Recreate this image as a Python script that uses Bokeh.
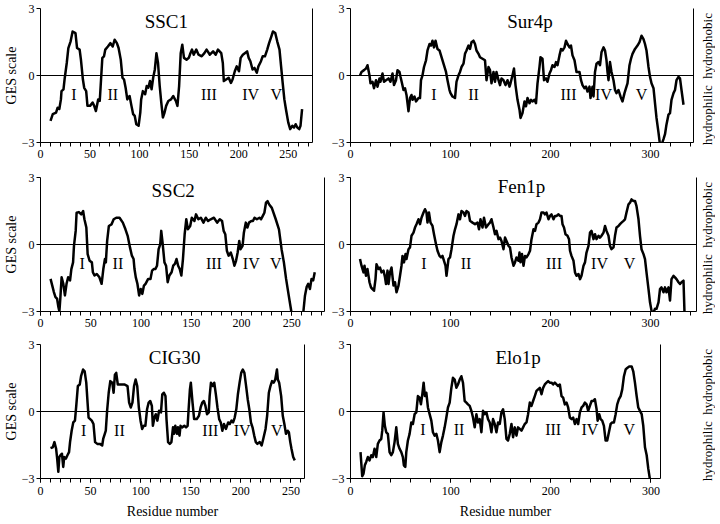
import math
from bokeh.plotting import figure
from bokeh.layouts import column, row
from bokeh.models import Span, Label, SingleIntervalTicker, FixedTicker, LinearAxis, Range1d
from bokeh.core.properties import value
from bokeh.embed import file_html
from bokeh.resources import INLINE

FONT = "Liberation Serif"
numerals = ["I", "II", "III", "IV", "V"]
side_text = ["hydrophobic", "hydrophilic"]
side_y = [1.55, -1.55]

# ---------------- SSC1 ----------------
ssc1_x = [10.1, 12.4, 15.7, 17.3, 19, 20.6, 21.2, 23.2, 24.5, 26.5,
          28.1, 30.4, 32.4, 35.3, 36.9, 39.5, 40.8, 42.8, 44.1, 46.1,
          47.4, 50, 52.6, 54.2, 55.9, 58.2, 59.8, 61.1, 62.4, 64.1,
          65.4, 68, 70.6, 72.9, 74.8, 77.1, 78.8, 81, 82.7, 84.3,
          85.9, 87.6, 89.9, 91.8, 93.5, 95.1, 96.7, 99, 100.7, 101.6,
          103.3, 105.6, 107.2, 108.8, 110.5, 112.1, 113.7, 115.4, 117, 118.6,
          120.3, 121.9, 123.5, 125.2, 126.8, 129, 131.7, 134, 136.6, 138.2,
          139.9, 141.5, 143.1, 144.8, 147.4, 149.7, 151.3, 152.9, 154.6, 157.2,
          159.5, 162.7, 165.4, 167.6, 170.9, 174.2, 176.8, 179.1, 182.4, 184,
          185, 187.3, 189.9, 192.2, 193.8, 196.1, 198, 200.3, 202, 204.2,
          206.2, 208.5, 210.1, 211.8, 214, 216, 218.3, 219.9, 222.5, 224.2,
          226.5, 228.8, 230.7, 233, 234.6, 236.9, 238.9, 241.2, 242.8, 244.4,
          246.1, 247.7, 250, 252, 254.2, 255.9, 257.5, 259.2, 261.1, 262.4,
          264]
ssc1_y = [-2.03, -1.73, -1.66, -1.44, -1.5, -1.07, -0.7, -0.62, -0.1, 0.56,
          1.23, 1.53, 1.97, 1.9, 1.23, 1.16, 0.71, -0.18, -0.55, -0.7,
          -1.36, -1.36, -1.21, -1.36, -1.59, -1.07, -1.14, -0.18, 0.79, 0.86,
          1.16, 1.3, 1.45, 1.3, 1.6, 1.45, 1.23, 0.71, -0.1, -0.18,
          -0.55, -1.07, -0.92, -1.36, -1.73, -1.81, -2.18, -2.25, -1.66, -1.07,
          -0.7, -0.84, -0.47, -0.55, -0.25, -0.62, -0.1, 0.27, 1.0, 0.56,
          -0.47, -1.21, -1.88, -1.66, -1.36, -1.14, -1.07, -0.92, -1.14, -1.36,
          -0.47, 1.0, 1.38, 0.79, 0.71, 0.79, 1.0, 1.16, 0.93, 1.16,
          0.93, 0.86, 1.0, 1.16, 0.93, 1.08, 0.93, 1.16, 1.0, 0.56,
          -0.25, -0.18, -0.1, -0.33, -0.18, 0.19, 0.41, 0.19, 0.79, 0.93,
          1.0, 1.08, 0.79, 0.64, 0.27, 0.34, 0.12, 0.41, 0.64, 0.86,
          0.86, 1.16, 1.45, 1.75, 1.97, 1.9, 1.53, 1.16, 0.41, -0.33,
          -1.07, -1.51, -2.1, -2.4, -2.25, -2.33, -2.18, -2.33, -2.4, -2.25,
          -1.51]
ssc1_num_x = [33.7, 73, 170, 212, 238]
ssc1_num_y = [-0.87, -0.87, -0.87, -0.87, -0.87]

# ---------------- Sur4p ----------------
sur4p_x = [9.5, 11, 13.5, 15.5, 17, 19, 20, 22, 23.5, 25.5,
           27, 29, 30, 32, 33.5, 35.5, 38, 40, 42, 43.5,
           45.5, 47, 49, 50, 51.5, 53, 54.5, 56, 58, 59.5,
           61, 62, 64, 65.5, 68, 69.5, 70.5, 72, 73.5, 75.5,
           77, 79, 80.5, 82, 83.5, 85, 87, 89, 90.5, 93,
           95.5, 97, 99, 100, 102, 104.5, 106, 108, 109.5, 111,
           113, 114.5, 116, 118, 119.5, 121, 123, 124.5, 126, 128,
           129.5, 132, 134.5, 136, 138, 139.5, 141, 143, 144.5, 146,
           148, 149.5, 151, 153, 155, 157, 159, 160, 162, 163.5,
           165, 167, 169, 170, 172, 174, 175.5, 177, 179, 180.5,
           182, 184, 185.5, 187, 189, 190, 192, 193.5, 195.5, 197,
           199, 200.5, 202, 204, 205.5, 207, 209, 210.5, 212, 214,
           215.5, 217, 219, 220.5, 222, 224, 226, 229, 230.5, 232,
           234, 235.5, 237, 239, 240, 242, 243, 244.5, 246, 248,
           249.5, 251, 253, 254.5, 256, 257, 258, 259.5, 261, 263,
           264.5, 266, 268, 270, 272, 274, 275.5, 277, 279, 280.5,
           282, 284.5, 287, 289, 291, 293, 294.5, 296, 298, 299.5,
           301, 303, 304.5, 306, 308, 309.5, 311, 313, 314.5, 316,
           318, 319.5, 321, 323, 324.5, 326, 328, 329.5, 331, 333]
sur4p_y = [0, 0.16, 0.24, 0.31, 0.46, 0, -0.35, -0.28, -0.57, -0.21,
           -0.5, -0.13, -0.28, 0.09, -0.28, -0.21, -0.13, -0.28, 0.09, -0.43,
           -0.21, 0.24, 0.16, -0.06, -0.35, -0.65, -0.57, -0.87, -1.6, -1.01,
           -0.87, -1.09, -0.94, -1.16, -1.01, -1.01, -0.21, 0.01, 0.38, 0.68,
           1.12, 1.41, 1.34, 1.56, 1.26, 1.56, 1.19, 1.12, 0.9, 0.53,
           0.16, -0.21, -0.65, -0.79, -0.94, -1.01, -0.28, 0.01, 0.16, 0.38,
           0.53, 0.97, 1.12, 1.34, 1.19, 1.49, 1.56, 1.41, 1.12, 0.97,
           0.82, 0.75, 0.68, -0.21, 0.38, 0.24, -0.35, 0.16, -0.28, 0.16,
           -0.21, -0.43, -0.13, -0.21, -0.43, -0.21, -0.5, -0.35, 0.01, 0.31,
           -0.43, -1.09, -1.53, -1.9, -1.68, -1.16, -1.38, -1.01, -1.24, -1.09,
           -1.16, -1.09, -1.24, -0.35, 0.38, 0.82, 0.75, -0.21, -0.13, -0.28,
           0.09, 0.24, 0.46, 0.38, 0.6, 0.46, 0.9, 1.19, 1.12, 1.26,
           1.56, 1.41, 1.26, 1.34, 0.9, 0.68, 0.16, 0.16, -0.21, -0.43,
           -0.57, -0.5, -0.72, -0.5, -1.01, -0.5, -0.94, 0.16, 0.53, 0.6,
           0.46, 1.04, 1.26, 1.12, 0.68, 0.16, -0.21, 0.6, 0.16, -0.21,
           -0.65, -0.79, -0.65, -0.94, -1.16, -0.79, -0.57, -0.35, 0.46, 0.75,
           0.97, 1.19, 1.34, 1.49, 1.78, 1.63, 1.41, 1.12, 0.38, -0.06,
           -0.35, -0.57, -1.24, -1.9, -2.56, -3.1, -3.1, -2.85, -2.63, -2.19,
           -1.75, -1.68, -1.09, -0.79, -0.65, -0.21, -0.06, -0.13, -0.65, -1.31]
sur4p_num_x = [83.5, 123, 218, 253, 291]
sur4p_num_y = [-0.87, -0.87, -0.87, -0.87, -0.87]

# ---------------- SSC2 ----------------
ssc2_x = [10, 11.7, 13.3, 14.9, 16.5, 17.8, 18.8, 19.7, 21, 22.7,
          24.3, 25.9, 27.5, 29.4, 30.7, 32.4, 33.3, 35, 35.9, 38.2,
          40.5, 42.4, 43.7, 45.6, 46.9, 48.9, 51.1, 52.1, 53.7, 56,
          58.6, 60.8, 62.5, 64.1, 65, 66.3, 68, 70.6, 72.8, 75.4,
          78.6, 81.9, 84.5, 86.7, 89, 90.9, 92.6, 93.5, 94.8, 96.4,
          98.1, 99.7, 101.3, 102.9, 104.5, 107.1, 109.4, 111, 112.6, 114.2,
          115.9, 117.5, 119.1, 120.1, 121.4, 123.3, 124.9, 126.5, 128.2, 130.4,
          132, 133.7, 135.3, 136.9, 138.5, 140.1, 141.7, 143.4, 145, 146.6,
          148.9, 150.5, 153.1, 154.7, 157, 159.5, 162.1, 164.4, 166.7, 169.3,
          172.5, 175.7, 178.3, 180.6, 182.2, 183.8, 185.4, 187.1, 189.3, 191.3,
          192.9, 194.5, 196.1, 197.7, 199, 201, 202.3, 204.2, 205.8, 207.4,
          209.7, 211.3, 212.9, 215.2, 217.8, 219.4, 221, 222.7, 224.3, 225.9,
          227.5, 230.1, 234, 237.2, 239.8, 242.1, 244.3, 246.9, 249.5, 253,
          258, 261.5, 263.1, 264.7, 266.3, 268, 269.6, 271.2, 272.8]
ssc2_y = [-1.54, -1.84, -2.13, -2.36, -2.43, -2.8, -3.0, -2.43, -1.47, -1.76,
          -2.28, -1.76, -1.47, -1.61, -1.1, -0.8, -0.06, 0.61, 1.42, 1.45,
          1.35, 1.5, 1.13, 0.76, -0.43, -0.73, -0.8, -1.24, -1.39, -1.32,
          -1.47, -1.76, -1.1, -0.65, -0.8, 0.16, 0.83, 0.9, 1.13, 1.2,
          1.2, 0.98, 0.68, 0.39, -0.13, -0.5, -0.65, -1.1, -1.47, -1.76,
          -2.28, -1.99, -2.21, -1.84, -1.76, -1.54, -1.54, -1.17, -1.1, -1.1,
          -0.95, -0.21, 0.01, 0.61, 0.09, -0.8, -0.95, -1.69, -1.39, -1.24,
          -0.95, -0.87, -0.65, -0.95, -1.1, -1.39, -0.65, 0.46, 1.13, 0.68,
          0.83, 1.2, 1.05, 1.35, 1.13, 1.2, 0.98, 1.2, 1.05, 1.13,
          1.2, 0.98, 1.13, 1.05, 0.61, 0.46, -0.28, -0.5, -0.36, -0.65,
          -0.95, -0.73, -0.36, 0.16, -0.21, -0.06, 0.53, 0.98, 0.76, 0.98,
          1.05, 1.05, 1.2, 1.13, 1.2, 1.13, 1.27, 1.42, 1.87, 1.94,
          1.79, 1.64, 1.13, 0.68, -0.21, -0.8, -1.54, -2.28, -3.0, -3.6,
          -3.6, -3.0, -2.28, -1.91, -1.76, -1.99, -1.54, -1.61, -1.24]
ssc2_num_x = [41.4, 77, 172.5, 209.7, 234]
ssc2_num_y = [-0.87, -0.87, -0.87, -0.87, -0.87]

# ---------------- Fen1p ----------------
fen1p_x = [9.5, 11, 13, 14, 15.5, 17, 19, 20.5, 22, 23.5,
           25, 26, 28, 29.5, 31, 33, 34.5, 35.5, 37, 38,
           39.5, 41, 43, 44.5, 46, 48, 49.5, 51, 52, 53.5,
           55, 56, 58, 59.5, 61, 63, 64.5, 66, 68, 69.5,
           71, 73, 74.5, 76, 77, 78.5, 80, 82, 83.5, 85.5,
           87, 89, 90.5, 92, 93.5, 95, 96, 98, 99.5, 101,
           103, 104.5, 106, 108, 109.5, 111, 113, 114.5, 116, 118,
           119.5, 122, 124.5, 127, 128.5, 130, 132, 133.5, 135.5, 138,
           139.5, 141, 143, 144.5, 146, 148, 149.5, 151, 153, 154.5,
           156, 158, 159.5, 161, 163, 164.5, 166, 168, 169, 170,
           171.5, 173, 174.5, 176, 178, 179.5, 181, 183, 184.5, 186,
           188, 189.5, 191, 193, 194.5, 196, 198, 199.5, 201, 203,
           204.5, 206, 208, 209.5, 211, 212, 213.5, 215, 217, 218.5,
           219.5, 221, 223, 224.5, 226, 228, 229.5, 231, 233, 234.5,
           236, 238, 239.5, 241, 243, 244.5, 246, 248, 249.5, 251,
           253, 254.5, 256, 258, 259.5, 261, 263, 264.5, 266, 268,
           269.5, 271, 273, 274.5, 276, 278, 279.5, 281, 283, 284.5,
           286, 288, 289.5, 291, 293, 294.5, 296, 298, 299.5, 301,
           303, 304.5, 306, 308, 309.5, 311, 313, 314.5, 316, 318,
           319.5, 321, 323, 324.5, 326, 328, 329.5, 331, 333, 334]
fen1p_y = [-0.65, -0.95, -1.25, -0.95, -1.4, -1.1, -1.69, -1.92, -2.0, -2.07,
           -1.55, -0.88, -1.1, -1.03, -1.25, -1.17, -1.47, -1.77, -1.17, -1.77,
           -1.25, -1.03, -1.84, -1.69, -2.14, -1.84, -1.4, -0.95, -0.51, -0.8,
           -0.43, -0.65, -0.21, -0.13, 0.39, 0.53, 0.76, 0.91, 1.13, 0.91,
           1.2, 1.43, 1.58, 1.43, 0.98, 1.43, 0.98, 0.83, 0.46, 0.01,
           -0.28, -0.51, -0.58, -0.51, -0.73, -0.95, -1.4, -0.65, -0.58, -0.21,
           0.39, 0.68, 0.91, 1.35, 1.13, 1.5, 1.43, 1.28, 1.5, 1.43,
           1.06, 0.98, 0.91, 0.98, 0.68, 1.13, 0.76, 1.2, 0.76, 0.91,
           0.98, 1.13, 0.76, 0.46, 0.61, 0.24, 0.31, 0.16, -0.21, 0.31,
           0.16, -0.06, -0.13, -0.58, -0.95, -0.8, -0.58, -0.73, -0.36, -0.8,
           -0.43, -0.95, -0.51, -0.58, -0.43, -0.28, 0.24, 0.68, 0.61, 0.91,
           0.98, 1.13, 1.43, 1.43, 1.35, 1.43, 1.13, 1.28, 1.35, 1.13,
           1.28, 1.28, 1.35, 1.28, 1.28, 0.91, 0.76, 0.46, 0.39, 0.24,
           -0.28, -0.51, -0.73, -1.25, -1.4, -1.32, -1.55, -1.4, -0.95, -0.8,
           -0.36, -0.06, 0.53, 0.61, 0.24, 0.46, 0.24, 0.39, 0.31, 0.39,
           0.53, 0.83, 0.61, 0.39, -0.06, -0.21, -0.13, 0.39, 0.76, 0.83,
           0.91, 0.98, 1.06, 1.13, 1.43, 1.8, 1.87, 2.02, 1.95, 1.95,
           1.72, 1.13, 0.39, -0.21, -0.43, -0.65, -1.25, -2.0, -2.59, -2.96,
           -3.05, -2.88, -2.88, -2.59, -2.0, -1.92, -2.14, -1.92, -2.14, -1.92,
           -2.51, -1.55, -1.4, -1.47, -1.55, -1.69, -1.77, -1.69, -1.62, -3.05]
fen1p_num_x = [73.5, 115.5, 203.5, 249, 279]
fen1p_num_y = [-0.85, -0.85, -0.85, -0.85, -0.85]

# ---------------- CIG30 ----------------
cig30_x = [10, 12.3, 13.9, 15.6, 16.5, 17.8, 18.8, 19.8, 21.4, 22.7,
           23.7, 25.3, 26.9, 28.5, 29.5, 31.1, 32.7, 34.4, 35.7, 37.3,
           39.2, 40.5, 42.5, 44.1, 45.7, 47, 48, 49.6, 51.2, 52.9,
           54.5, 56.7, 59.3, 61.6, 62.6, 64.2, 65.2, 66.5, 68.1, 69.7,
           71.7, 73, 74.3, 75.6, 77.2, 80.4, 83.7, 86.9, 88.5, 90.1,
           91.8, 93.4, 95, 96.6, 98.2, 99.9, 101.5, 103.1, 104.7, 106.4,
           108, 109.6, 111.2, 112.2, 113.8, 115.1, 116.7, 118.4, 120.3, 121.6,
           123.2, 124.8, 125.8, 127.4, 129.1, 130.7, 132.3, 133.3, 134.6, 136.2,
           137.2, 138.8, 139.8, 141.4, 143.6, 145.3, 146.9, 147.9, 149.2, 150.1,
           151.8, 153.4, 156, 158.2, 159.9, 161.5, 163.1, 164.7, 166.3, 168,
           168.9, 170.2, 172.2, 173.5, 175.1, 176.7, 178.4, 180, 181.6, 183.2,
           185.2, 187.4, 189, 190.7, 192.3, 193.9, 195.5, 197.1, 198.8, 200.4,
           202, 203.6, 205.3, 206.9, 208.5, 210.1, 211.7, 213.4, 215, 216.6,
           218.9, 220.8, 222.4, 224.7, 226.3, 228, 229.6, 231.2, 232.8, 234.4,
           236.1, 237, 238.3, 240.3, 241.9, 243.5, 245.1, 246.8, 248, 249.4,
           250.6, 252.3, 253.9]
cig30_y = [-1.64, -1.6, -1.37, -1.67, -2.04, -2.7, -2.04, -1.96, -1.89, -2.48,
           -2.04, -2.11, -1.96, -1.82, -1.37, -0.86, -0.49, -0.41, 0.25, 1.14,
           1.21, 1.58, 1.88, 1.8, 1.29, 0.4, -0.27, -0.34, -0.41, -0.56,
           -1.37, -1.45, -1.45, -1.52, -1.23, -1.0, -0.86, 0.03, 0.84, 1.36,
           1.29, 0.84, 1.65, 1.73, 1.21, 1.21, 1.21, 1.14, 0.4, 0.18,
           0.4, 1.14, 1.43, 1.14, 0.18, -0.41, -0.78, -0.64, -0.64, 0.1,
           0.4, 0.47, 0.25, -0.64, -0.27, -0.12, -0.41, 0.03, -0.04, 0.77,
           0.84, 0.69, -0.34, -1.37, -1.45, -1.37, -0.71, -1.0, -0.64, -1.0,
           -0.71, -1.08, -0.64, -0.71, -0.64, -0.71, -0.64, 0.1, 0.99, 1.29,
           0.4, -0.34, -0.34, -0.19, 0.18, 0.4, 0.47, 0.25, -0.12, -0.04,
           0.69, 1.29, 1.14, 1.29, 0.77, 0.18, -0.34, -0.49, -0.86, -0.56,
           -0.78, -0.49, -0.56, -0.41, -0.49, -0.27, 0.1, 0.77, 1.29, 1.73,
           1.88, 1.73, 1.14, 0.55, 0.1, -0.49, -0.71, -1.08, -1.37, -1.45,
           -1.37, -1.52, -1.23, -0.78, -0.19, 0.84, 1.14, 1.36, 1.29, 1.43,
           1.88, 1.43, 1.29, 0.69, -0.19, -0.56, -1.0, -0.86, -0.93, -1.37,
           -1.67, -2.04, -2.19]
cig30_num_x = [43, 78.8, 169.6, 201.4, 236]
cig30_num_y = [-0.86, -0.86, -0.86, -0.86, -0.86]

# ---------------- Elo1p ----------------
elo1p_x = [10, 11.7, 13, 14.3, 15.7, 17.3, 19, 20.7, 22.3, 24,
           25.7, 27.3, 29, 30.7, 31.7, 33, 34.3, 35.7, 37.3, 39,
           40.7, 42.3, 44, 45.7, 47.3, 49, 50.7, 52.3, 53.3, 54.7,
           55.7, 57.3, 59, 60.7, 62.3, 64, 65.7, 67.3, 69, 70.3,
           71.7, 73, 74.3, 75.7, 77.3, 79, 80.7, 82.3, 84, 85.7,
           87.3, 89, 90.7, 92.3, 94, 95.7, 97.3, 99, 100.7, 102.3,
           104, 105.7, 107.3, 109, 110.7, 112.3, 114, 115.7, 117.3, 119,
           120.7, 122.3, 124, 125.7, 127.3, 129, 130.7, 132.3, 134, 135.7,
           137.3, 139, 140.7, 142.3, 144, 145.7, 147.3, 149, 150.7, 152.3,
           154, 155.7, 157.3, 159, 160.7, 162.3, 164, 165.7, 167.3, 169,
           170.7, 172.3, 174, 175.7, 177.3, 179, 180.7, 182.3, 184, 185.7,
           187.3, 189, 190.7, 192.3, 194, 195.7, 197.3, 199, 200.7, 202.3,
           204, 205.7, 207.3, 209, 210.7, 212.3, 214, 215.7, 217.3, 219,
           220.7, 222.3, 224, 225.7, 227.3, 229, 230.7, 232.3, 234, 235.7,
           237.3, 239, 240.7, 242.3, 244, 245.7, 246.7, 248.3, 249.7, 251.3,
           253, 254.7, 256.3, 258, 259.7, 261.3, 263, 264.7, 266.3, 268,
           269.7, 271.3, 273, 274.7, 276.3, 278.3, 280.7, 282.3, 284, 285.7,
           287.3, 289, 290.7, 292.3, 294, 295.7, 297.3, 299]
elo1p_y = [-1.82, -2.9, -2.78, -2.41, -2.26, -2.04, -2.19, -1.96, -2.04, -1.67,
           -2.04, -1.45, -1.3, -1.23, -0.86, -0.04, -0.64, -0.93, -1.0, -1.82,
           -1.96, -1.82, -1.37, -0.71, -1.45, -1.67, -1.82, -2.04, -2.41, -2.48,
           -1.82, -1.3, -1.0, -0.49, -0.56, -0.12, -0.04, 0.69, 0.62, 0.32,
           0.77, 1.29, 0.69, 0.84, 0.18, -0.12, -0.41, -0.93, -1.08, -1.0,
           -1.3, -1.82, -1.37, -1.08, -0.71, -0.27, 0.18, 0.4, 1.06, 1.51,
           1.43, 1.06, 1.21, 1.43, 1.58, 1.29, 0.47, 0.4, 0.32, 0.25,
           0.03, -0.27, -0.71, -0.12, -0.49, -0.34, -0.93, 0.03, -0.12, -0.04,
           -0.34, -0.49, -0.93, -0.34, -0.56, -0.93, -0.49, -0.56, -0.04, 0.1,
           -0.34, -1.23, -1.3, -1.0, -0.56, -1.15, -0.71, -1.08, -0.71, -0.78,
           -0.86, -0.71, -0.56, -0.49, -0.12, 0.4, 0.25, 0.47, 0.69, 0.92,
           0.99, 1.06, 0.77, 1.06, 1.21, 1.29, 1.36, 1.29, 1.29, 1.21,
           1.29, 1.21, 1.14, 1.21, 0.69, 0.62, 0.32, 0.4, 0.18, -0.27,
           -0.34, -0.27, -0.56, -0.34, -0.56, -0.04, 0.18, 0.25, 0.4, 0.32,
           0.03, 0.25, 0.47, 0.47, 0.55, 0.1, -0.41, -0.12, -0.34, -0.41,
           -0.64, -1.3, -1.3, -0.93, -0.56, -0.49, -0.49, -0.12, 0.32, 0.55,
           0.69, 0.99, 1.58, 1.88, 1.95, 2.02, 2.02, 1.8, 1.29, 0.69,
           0.18, 0.03, -0.12, -0.64, -1.6, -1.96, -2.56, -3.05]
elo1p_num_x = [72.3, 108.3, 202.3, 239, 278.3]
elo1p_num_y = [-0.81, -0.81, -0.81, -0.81, -0.81]

y_ticks = [-3, 0, 3]

FRAME_H = 134
PX_PER_Y = FRAME_H / 6.0


def make_panel(name, xs, ys, nx, ny, title_xy, xmax, frame_w, left_b, right_b,
               top_b, bottom_b, interval, side, bottom_row):
    p = figure(frame_width=frame_w, frame_height=FRAME_H,
               x_range=Range1d(0, xmax), y_range=Range1d(-3, 3),
               output_backend="svg", toolbar_location=None,
               min_border_left=left_b, min_border_right=right_b,
               min_border_top=top_b, min_border_bottom=bottom_b)
    p.outline_line_color = None
    p.xgrid.visible = False
    p.ygrid.visible = False
    p.background_fill_color = "white"
    p.border_fill_color = "white"

    p.add_layout(Span(location=0, dimension="width", line_color="black", line_width=1))
    p.line(xs, ys, line_color="black", line_width=2.5, line_join="round")
    p.text(x=nx, y=ny, text=numerals, text_font=value(FONT), text_font_size="16px",
           text_align="center", text_baseline="middle", text_color="black")
    p.add_layout(Label(x=title_xy[0], y=title_xy[1], text=name, text_font=FONT,
                       text_font_size="19px", text_align="center",
                       text_baseline="middle", text_color="black"))

    xa = p.xaxis[0]
    xa.ticker = SingleIntervalTicker(interval=interval, num_minor_ticks=5)
    xa.axis_line_color = "black"
    xa.major_tick_line_color = "black"
    xa.minor_tick_line_color = "black"
    xa.major_tick_in = 0
    xa.major_tick_out = 4
    xa.minor_tick_in = 0
    xa.minor_tick_out = 4
    xa.major_label_standoff = 4 if bottom_row else 3
    xa.major_label_text_font = FONT
    xa.major_label_text_font_size = "12px"
    xa.major_label_text_color = "black"
    if bottom_row:
        xa.axis_label = "Residue number"
        xa.axis_label_text_font = FONT
        xa.axis_label_text_font_size = "14px"
        xa.axis_label_text_font_style = "normal"
        xa.axis_label_text_color = "black"
        xa.axis_label_standoff = 6

    ya = p.yaxis[0]
    ya.ticker = FixedTicker(ticks=y_ticks, minor_ticks=[])
    ya.axis_line_color = "black"
    ya.major_tick_line_color = "black"
    ya.major_tick_in = 0
    ya.major_tick_out = 4
    ya.minor_tick_line_color = None
    ya.major_label_standoff = 2
    ya.major_label_text_font = FONT
    ya.major_label_text_font_size = "12px"
    ya.major_label_text_color = "black"
    if side == "left":
        ya.axis_label = "GES scale"
        ya.axis_label_text_font = FONT
        ya.axis_label_text_font_size = "14px"
        ya.axis_label_text_font_style = "normal"
        ya.axis_label_text_color = "black"
        ya.axis_label_standoff = 0

    ra = LinearAxis(ticker=FixedTicker(ticks=[], minor_ticks=[]),
                    axis_line_color="black", major_tick_in=0, major_tick_out=0,
                    minor_tick_in=0, minor_tick_out=0,
                    major_label_text_font_size="0px")
    p.add_layout(ra, "right")
    return p


def make_side(top_b, bottom_b):
    # narrow strip holding the rotated "hydrophobic" / "hydrophilic" texts
    pad = 5
    ext = pad / PX_PER_Y
    s = figure(frame_width=16, frame_height=FRAME_H + 2 * pad,
               x_range=Range1d(-1, 1), y_range=Range1d(-3 - ext, 3 + ext),
               x_axis_type=None, y_axis_type=None,
               output_backend="svg", toolbar_location=None,
               min_border_left=0, min_border_right=0,
               min_border_top=top_b - pad, min_border_bottom=bottom_b - pad)
    s.outline_line_color = None
    s.grid.visible = False
    s.background_fill_color = "white"
    s.border_fill_color = "white"
    s.text(x=[0, 0], y=side_y, text=side_text, angle=math.pi / 2,
           text_font=value(FONT), text_font_size="13px", text_align="center",
           text_baseline="middle", text_color="black")
    return s


# left column: frame left border 32, total width 320
p1 = make_panel("SSC1", ssc1_x, ssc1_y, ssc1_num_x, ssc1_num_y, (127, 2.4),
                274.5, 272, 32, 16, 8, 27, 50, "left", False)
p3 = make_panel("SSC2", ssc2_x, ssc2_y, ssc2_num_x, ssc2_num_y, (132, 2.4),
                282.5, 284, 32, 4, 8, 27, 50, "left", False)
p5 = make_panel("CIG30", cig30_x, cig30_y, cig30_num_x, cig30_num_y, (134, 2.4),
                263.6, 264, 32, 24, 6, 45, 50, "left", True)
# right column: frame left border 22, total width 371, then a 16px label strip
p2 = make_panel("Sur4p", sur4p_x, sur4p_y, sur4p_num_x, sur4p_num_y, (179.5, 2.4),
                343, 343, 22, 6, 8, 27, 100, "right", False)
p4 = make_panel("Fen1p", fen1p_x, fen1p_y, fen1p_num_x, fen1p_num_y, (171, 2.6),
                346, 346, 22, 3, 8, 27, 100, "right", False)
p6 = make_panel("Elo1p", elo1p_x, elo1p_y, elo1p_num_x, elo1p_num_y, (167.3, 2.4),
                309.5, 310, 22, 39, 6, 45, 100, "right", True)

s1 = make_side(8, 27)
s2 = make_side(8, 27)
s3 = make_side(6, 45)

layout = column(row(p1, p2, s1), row(p3, p4, s2), row(p5, p6, s3))

with open("out.html", "w") as f:
    f.write(file_html(layout, INLINE))
